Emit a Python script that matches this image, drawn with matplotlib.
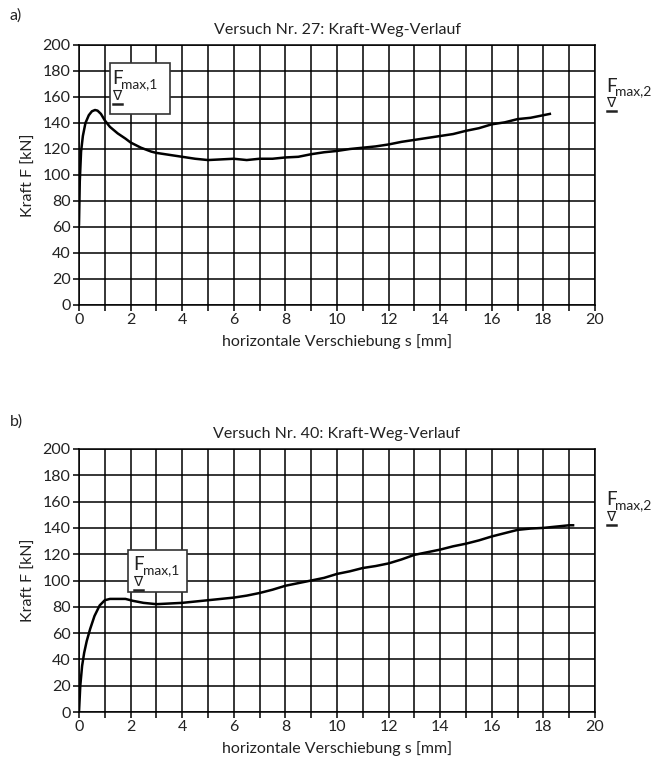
import numpy as np
import matplotlib.pyplot as plt
from matplotlib.lines import Line2D

plt.rcParams['font.family'] = ['Lato', 'DejaVu Sans']

# Versuch 27: s [mm], F [kN]
s27 = [0.0, 0.03, 0.08, 0.15, 0.25, 0.38, 0.5, 0.62, 0.72, 0.85, 1.0, 1.2, 1.5, 1.8, 2.0, 2.4,
       2.8, 3.0, 3.5, 4.0, 4.5, 5.0, 5.5, 6.0, 6.5, 7.0, 7.5, 8.0, 8.5, 9.0, 9.5, 10.0,
       10.5, 11.0, 11.5, 12.0, 12.5, 13.0, 13.5, 14.0, 14.5, 15.0, 15.5, 16.0, 16.5,
       17.0, 17.5, 18.0, 18.25]
F27 = [62, 95, 118, 130, 140, 146, 149, 150, 149.5, 147, 142, 137, 132, 128, 125, 121,
       118, 117, 115.5, 114, 112.5, 111.5, 112, 112.5, 111.5, 112.5, 112.5, 113.5, 114, 116, 117.5, 118.5,
       120, 121, 122, 123.5, 125.5, 127, 128.5, 130, 131.5, 134, 136, 139, 140.5,
       143, 144, 146, 147]

# Versuch 40
s40 = [0.0, 0.05, 0.12, 0.2, 0.3, 0.43, 0.6, 0.8, 1.0, 1.2, 1.5, 1.8, 2.1, 2.5, 3.0,
       3.5, 4.0, 4.5, 5.0, 5.5, 6.0, 6.5, 7.0, 7.5, 8.0, 8.5, 9.0, 9.5, 10.0, 10.5,
       11.0, 11.5, 12.0, 12.5, 13.0, 13.5, 14.0, 14.5, 15.0, 15.5, 16.0, 16.5, 17.0,
       17.5, 18.0, 18.5, 19.0, 19.15]
F40 = [0, 20, 35, 45, 54, 63, 73, 81, 85, 86, 86, 86, 84.5, 83, 82, 82.5,
       83, 84, 85, 86, 87, 88.5, 90.5, 93, 96, 98, 100, 102, 105, 107,
       109.5, 111, 113, 116, 119.5, 121.5, 123.5, 126, 128, 130.5, 133.5, 136, 138.5,
       139.5, 140, 141, 142, 142]

titles = ['Versuch Nr. 27: Kraft-Weg-Verlauf', 'Versuch Nr. 40: Kraft-Weg-Verlauf']
panels = ['a)', 'b)']

W, H = 652, 763
fig = plt.figure(figsize=(W / 100, H / 100), dpi=100)

# axes boxes in pixels: left, top, right, bottom
boxes = [(79, 45, 595, 305), (79, 449, 595, 712)]
# F_max,1 box (pixel left, top, right, bottom), F_max,1 and F_max,2 label (left, cap top)
fbox1 = [(110, 63, 170, 114), (128, 550, 187, 592)]
flab1 = [(113, 72), (134, 558)]
flab2 = [(607, 79), (607, 493)]
panel_pos = [(10, 16), (10, 422)]

ink = '#222222'
fs = 11.5
data = [(s27, F27), (s40, F40)]


def fig_xy(px, py):
    return px / W, 1 - py / H


def fmax_label(px, py, sub):
    # "F_max,n" with an underlined nabla below it
    fig.text(*fig_xy(px - 1, py + 12.5), 'F', fontsize=13.5, color=ink,
             va='baseline', ha='left', zorder=10)
    fig.text(*fig_xy(px + 8.5, py + 16), 'max,' + sub, fontsize=10, color=ink,
             va='baseline', ha='left', zorder=10)
    fig.text(*fig_xy(px - 0.5, py + 28.5), '\u2207', fontsize=10, color=ink,
             va='baseline', ha='left', zorder=10, family='DejaVu Sans')
    x0, y0 = fig_xy(px, py + 31.5)
    x1, _ = fig_xy(px + 8.5, py + 31.5)
    fig.add_artist(Line2D([x0, x1], [y0, y0], color=ink, lw=1.8, zorder=10))


for i in range(2):
    l, t, r, b = boxes[i]
    ax = fig.add_axes([l / W, 1 - b / H, (r - l) / W, (b - t) / H])
    s, F = data[i]
    ax.plot(s, F, color='black', lw=1.8, zorder=3)
    ax.set_xlim(0, 20)
    ax.set_ylim(0, 200)
    ax.set_xticks(np.arange(0, 21, 1))
    ax.set_xticklabels([str(v) if v % 2 == 0 else '' for v in range(21)])
    ax.set_yticks(np.arange(0, 201, 20))
    ax.grid(True, color='black', lw=1.1)
    for sp in ax.spines.values():
        sp.set_color('black')
        sp.set_linewidth(1.1)
    ax.tick_params(direction='out', length=4, width=1.1, color='black',
                   labelsize=fs, labelcolor=ink, pad=2)
    ax.set_xlabel('horizontale Verschiebung s [mm]', fontsize=fs, color=ink, labelpad=5)
    ax.set_ylabel('Kraft F [kN]', fontsize=fs, color=ink, labelpad=5)
    ax.set_title(titles[i], fontsize=fs, color=ink, pad=8)

    fig.text(*fig_xy(*panel_pos[i]), panels[i], fontsize=fs, color=ink, va='center')

    # box around F_max,1
    bl, bt, br, bb = fbox1[i]
    x0, y1 = fig_xy(bl, bt)
    x1, y0 = fig_xy(br, bb)
    fig.add_artist(plt.Rectangle((x0, y0), x1 - x0, y1 - y0, transform=fig.transFigure,
                                 facecolor='white', edgecolor='#333333', lw=1.2, zorder=5))
    fmax_label(*flab1[i], '1')
    fmax_label(*flab2[i], '2')

fig.savefig('out.png', dpi=100)
